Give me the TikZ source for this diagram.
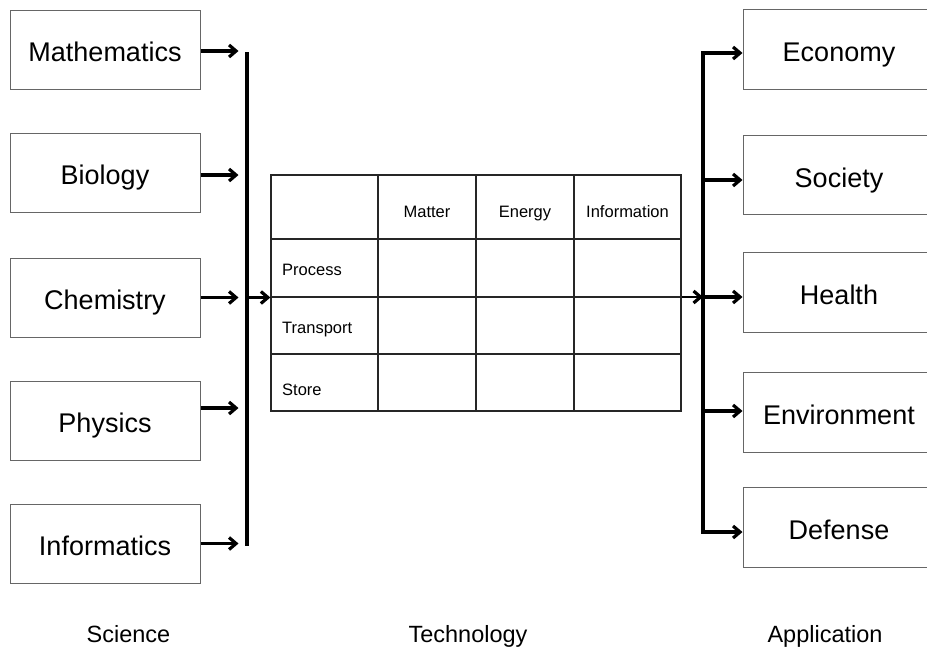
\documentclass[tikz,border=0pt]{standalone}
\usepackage{fontspec}
\setmainfont{Liberation Sans}
\usetikzlibrary{arrows.meta}
\begin{document}
\begin{tikzpicture}[x=1pt,y=-1pt,
  box/.style={draw=black!60, line width=1pt, minimum width=190pt, minimum height=79pt,
    inner sep=0pt, text height=26pt, text depth=2pt, font=\fontsize{27}{30}\selectfont},
  rbox/.style={box, minimum width=192pt, minimum height=79.5pt},
  arr/.style={line width=3.2pt, line join=miter, -{Straight Barb[length=7pt,width=12pt]}},
  thinarr/.style={line width=1.8pt, -{Straight Barb[length=7pt,width=12pt,line width=3.2pt]}},
  barline/.style={line width=3.2pt},
  tline/.style={line width=1.3pt, draw=black!85},
  ttext/.style={font=\fontsize{16.5}{18}\selectfont, inner sep=0pt},
  lab/.style={font=\fontsize{23.5}{26}\selectfont, inner sep=0pt, anchor=base}]
\useasboundingbox (0,0) rectangle (927,648);
\clip (0,0) rectangle (927,648);

% Science boxes
\node[box] (math) at (105,49.5) {Mathematics};
\node[box] (bio)  at (105,172.5) {Biology};
\node[box] (chem) at (105,297.5) {Chemistry};
\node[box] (phys) at (105,420.5) {Physics};
\node[box] (info) at (105,543.5) {Informatics};

% Application boxes
\node[rbox] (econ) at (839,49.5) {Economy};
\node[rbox] (soc)  at (839,175) {Society};
\node[rbox] (heal) at (839,292.5) {Health};
\node[rbox] (env)  at (839,412.5) {Environment};
\node[rbox] (def)  at (839,527.5) {Defense};

% Technology table
\node[draw=black!85, line width=1.3pt, minimum width=410pt, minimum height=236pt, inner sep=0pt] (tab) at (476,293) {};
\draw[tline] (378,175) -- (378,411);
\draw[tline] (476,175) -- (476,411);
\draw[tline] (574,175) -- (574,411);
\draw[tline] (271,239) -- (681,239);
\draw[tline] (271,297) -- (681,297);
\draw[tline] (271,354) -- (681,354);
\node[ttext, anchor=base] (hm) at (427,217) {Matter};
\node[ttext, anchor=base] (he) at (525,217) {Energy};
\node[ttext, anchor=base] (hi) at (627.5,217) {Information};
\node[ttext, anchor=base west] (rp) at (282,275) {Process};
\node[ttext, anchor=base west] (rt) at (282,333) {Transport};
\node[ttext, anchor=base west] (rs) at (282,395) {Store};

% left bar
\coordinate (lbtop) at (247,52);
\coordinate (lbbot) at (247,546);
\coordinate (lbmid) at (247,297.5);
\draw[barline] (lbtop) -- (lbbot);
\draw[arr] ([yshift=-1.5pt]math.east) -- ++(38,0);
\draw[arr] ([yshift=-2.5pt]bio.east) -- ++(38,0);
\draw[arr] (chem.east) -- ++(38,0);
\draw[arr] ([yshift=12.5pt]phys.east) -- ++(38,0);
\draw[arr] (info.east) -- ++(38,0);
\draw[arr] (lbmid) -- (lbmid -| tab.west);

% right bar
\coordinate (rbtop) at (703,53);
\coordinate (rbbot) at (703,532);
\coordinate (rbmid) at (703,297);
\coordinate (rbsoc) at (703,180);
\coordinate (rbenv) at (703,411);
\draw[thinarr] (rbmid -| tab.east) -- (rbmid);
\draw[arr] (rbmid) -- (rbtop) -- (rbtop -| econ.west);
\draw[arr] (rbmid) -- (rbbot) -- (rbbot -| def.west);
\draw[arr] (rbsoc) -- (rbsoc -| soc.west);
\draw[arr] (rbmid) -- (rbmid -| heal.west);
\draw[arr] (rbenv) -- (rbenv -| env.west);

% bottom labels
\node[lab] (sci) at (128.5,642) {Science};
\node[lab] (tech) at (468,642) {Technology};
\node[lab] (app) at (825,642) {Application};
\end{tikzpicture}
\end{document}
